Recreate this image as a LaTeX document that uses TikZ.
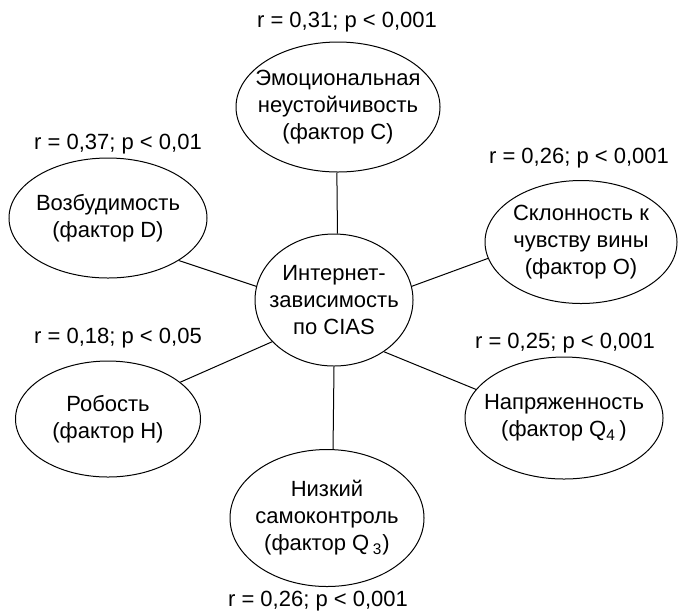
\documentclass[tikz,border=0pt]{standalone}
\usepackage{fontspec}
\setmainfont{Liberation Sans}
\usetikzlibrary{shapes.geometric, positioning}
\tikzstyle{factor} = [ellipse, draw=black, fill=white, inner xsep=-12pt, inner ysep=0pt,
align=center, line width=0.5pt, font=\fontsize{11pt}{13.5pt}\selectfont]
\tikzstyle{stat} = [inner sep=0pt, font=\fontsize{11pt}{13.5pt}\selectfont]
\tikzstyle{link} = [line width=0.5pt]

\begin{document}
\begin{tikzpicture}[x=0.5pt, y=-0.5pt]
  \useasboundingbox (0,0) rectangle (678,612);

  \node (centre) [factor, minimum width=79pt, minimum height=66pt] at (334,300) {Интернет-\\зависимость\\по CIAS};

  \node (emo) [factor, minimum width=102pt, minimum height=65pt] at (338,107) {Эмоциональная\\неустойчивость\\(фактор C)};
  \node (vozb) [factor, minimum width=99pt, minimum height=60pt] at (108,218) {Возбудимость\\(фактор D)};
  \node (sklon) [factor, minimum width=96pt, minimum height=61.5pt] at (581,242) {Склонность к\\чувству вины\\(фактор O)};
  \node (rob) [factor, minimum width=92.5pt, minimum height=58pt] at (108,419) {Робость\\(фактор H)};
  \node (napr) [factor, minimum width=99pt, minimum height=61pt] at (564,418) {Напряженность\\(фактор Q\textsubscript{4}\,)};
  \node (samo) [factor, minimum width=97pt, minimum height=68.5pt] at (327,518) {Низкий\\самоконтроль\\(фактор Q\,\textsubscript{3})};

  \node (remo) [stat] at (347,22) {r = 0,31; p < 0,001};
  \node (rvozb) [stat] at (118,144) {r = 0,37; p < 0,01};
  \node (rsklon) [stat] at (579,158) {r = 0,26; p < 0,001};
  \node (rrob) [stat] at (118,338) {r = 0,18; p < 0,05};
  \node (rnapr) [stat] at (565,343) {r = 0,25; p < 0,001};
  \node (rsamo) [stat] at (318,601) {r = 0,26; p < 0,001};

  \draw [link] (centre.87) -- (emo.-91);
  \draw [link] (centre.170) -- (vozb.-31);
  \draw [link] (centre.10) -- (sklon.190);
  \draw [link] (centre.-146) -- (rob.27);
  \draw [link] (centre.-46) -- (napr.162);
  \draw [link] (centre.-90) -- (samo.85);
\end{tikzpicture}
\end{document}
